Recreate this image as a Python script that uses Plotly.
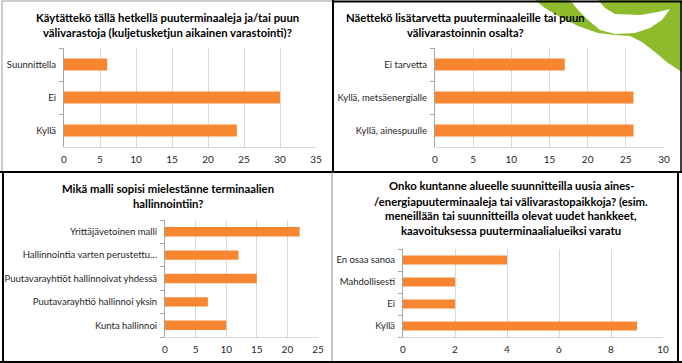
import plotly.graph_objects as go

# ---------------- data ----------------
q1_categories = ["Kyllä", "Ei", "Suunnittella"]
q1_values = [24, 30, 6]
q1_title = ["Käytättekö tällä hetkellä puuterminaaleja ja/tai puun",
            "välivarastoja (kuljetusketjun aikainen varastointi)?"]

q2_categories = ["Kyllä, ainespuulle", "Kyllä, metsäenergialle", "Ei tarvetta"]
q2_values = [26, 26, 17]
q2_title = ["Näettekö lisätarvetta puuterminaaleille tai puun",
            "välivarastoinnin osalta?"]

q3_categories = ["Kunta hallinnoi", "Puutavarayhtiö hallinnoi yksin",
                 "Puutavarayhtiöt hallinnoivat yhdessä",
                 "Hallinnointia varten perustettu…", "Yrittäjävetoinen malli"]
q3_values = [10, 7, 15, 12, 22]
q3_title = ["Mikä malli sopisi mielestänne terminaalien",
            "hallinnointiin?"]

q4_categories = ["Kyllä", "Ei", "Mahdollisesti", "En osaa sanoa"]
q4_values = [9, 2, 2, 4]
q4_title = ["Onko kuntanne alueelle suunnitteilla uusia aines-",
            "/energiapuuterminaaleja tai välivarastopaikkoja? (esim.",
            "meneillään tai suunnitteilla olevat uudet hankkeet,",
            "kaavoituksessa puuterminaalialueiksi varatu"]

# ---------------- layout helpers ----------------
W, H = 682, 363
def px(x):
    return x / W
def py(y):
    return 1 - y / H

BAR = "#F6862F"
GRID = "#D9D9D9"
AXIS = "#A6A6A6"
TXT = "#262626"
FONT = "Lato, Carlito, Calibri, sans-serif"

panels = [
    dict(cats=q1_categories, vals=q1_values, title=q1_title, xr=[0, 35], dt=5,
         xd=(64, 316), yd=(48, 147), width=0.37, tx=167, ty=[17, 32]),
    dict(cats=q2_categories, vals=q2_values, title=q2_title, xr=[0, 30], dt=5,
         xd=(435, 664), yd=(48, 147), width=0.37, tx=466, ty=[17, 32]),
    dict(cats=q3_categories, vals=q3_values, title=q3_title, xr=[0, 25], dt=5,
         xd=(165, 318), yd=(220, 337), width=0.4, tx=168, ty=[188, 203]),
    dict(cats=q4_categories, vals=q4_values, title=q4_title, xr=[0, 10], dt=2,
         xd=(403, 663), yd=(249, 337), width=0.41, tx=511, ty=[186, 201, 215, 230]),
]

fig = go.Figure()
layout = {}
annotations = []
for i, p in enumerate(panels, start=1):
    sfx = "" if i == 1 else str(i)
    fig.add_trace(go.Bar(
        x=p["vals"], y=p["cats"], orientation="h",
        marker=dict(color=BAR, line=dict(width=0)),
        width=p["width"], xaxis="x" + sfx, yaxis="y" + sfx,
        showlegend=False, hoverinfo="x+y"))
    layout["xaxis" + sfx] = dict(
        domain=[px(p["xd"][0]), px(p["xd"][1])], range=p["xr"], dtick=p["dt"],
        anchor="y" + sfx, showgrid=True, gridcolor=GRID, gridwidth=1,
        zeroline=False, showline=True, linecolor=GRID, linewidth=1,
        ticks="", ticklabelstandoff=3, automargin=False,
        tickfont=dict(family=FONT, size=10, color=TXT), fixedrange=True)
    layout["yaxis" + sfx] = dict(
        domain=[py(p["yd"][1]), py(p["yd"][0])], anchor="x" + sfx,
        type="category", categoryorder="array", categoryarray=p["cats"],
        showline=True, linecolor=AXIS, linewidth=1, showgrid=False,
        ticks="outside", tickson="boundaries", ticklen=4, tickcolor=AXIS,
        ticklabelstandoff=5, automargin=False,
        tickfont=dict(family=FONT, size=9.5, color=TXT), fixedrange=True)
    for line, yy in zip(p["title"], p["ty"]):
        annotations.append(dict(
            text="<b>" + line + "</b>", x=px(p["tx"]), y=py(yy),
            xref="paper", yref="paper", xanchor="center", yanchor="middle",
            showarrow=False, font=dict(family=FONT, size=11.3, color="#000000")))

# decorative green swoosh (background) and panel borders
swoosh = ("M535,0 L682,0 L682,72 L668,63 L655,52 L642,42 L630,36 L615,35 "
          "L598,33 L578,26 L560,17 L545,8 Z")
white_cut = ("M570,0 L598,0 L605,8 L615,14 L640,15 L658,12 L670,9 "
             "L662,20 L650,28 L635,33 L615,34 L600,30 L588,20 L578,10 Z")
def to_paper_path(path):
    out = []
    for tok in path.split():
        cmd = tok[0] if tok[0].isalpha() else ""
        body = tok[1:] if cmd else tok
        if body:
            xs, ys = body.split(",")
            out.append(f"{cmd}{px(float(xs)):.5f},{py(float(ys)):.5f}")
        else:
            out.append(cmd)
    return " ".join(out)

shapes = [
    dict(type="path", path=to_paper_path(swoosh), xref="paper", yref="paper",
         fillcolor="#8DBB2B", line=dict(width=0), layer="below"),
    dict(type="path", path=to_paper_path(white_cut), xref="paper", yref="paper",
         fillcolor="#FFFFFF", line=dict(width=0), layer="below"),
]
def seg(x0, y0, x1, y1, color="#000000", w=1.5):
    shapes.append(dict(type="line", xref="paper", yref="paper",
                       x0=px(x0), y0=py(y0), x1=px(x1), y1=py(y1),
                       line=dict(color=color, width=w)))
# top-left panel
seg(2, 1, 2, 172, "#9A9A9A", 1)
seg(2, 1, 333, 1, "#9A9A9A", 1)
# top-right panel
seg(334, 1.5, 682, 1.5, "#000000", 2)
seg(681, 1, 681, 172, "#000000", 1.5)
# vertical divider top
seg(333, 0, 333, 172, "#000000", 2)
# horizontal divider
seg(0, 172, 682, 172, "#000000", 2)
# bottom-left panel
seg(3, 172, 3, 363, "#000000", 2)
seg(332, 172, 332, 363, "#8A8A8A", 1)
# bottom-right panel
seg(678, 172, 678, 363, "#000000", 2)
seg(0, 362, 682, 362, "#000000", 2)

fig.update_layout(
    width=W, height=H, margin=dict(l=0, r=0, t=0, b=0, autoexpand=False),
    paper_bgcolor="#FFFFFF", plot_bgcolor="rgba(0,0,0,0)",
    annotations=annotations, shapes=shapes, bargap=0.6,
    **layout)

fig.write_html("out.html", config={"displayModeBar": False},
               post_script="document.body.style.margin='0';"
                           "document.body.style.overflow='hidden';")
